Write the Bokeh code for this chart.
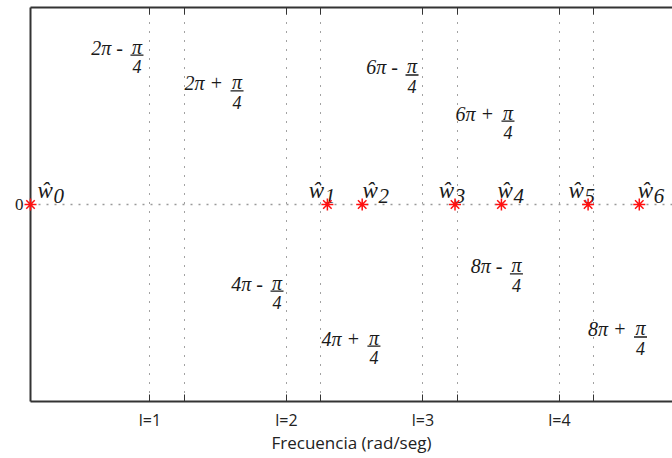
from bokeh.plotting import figure
from bokeh.models import Range1d, FixedTicker, LinearAxis, ColumnDataSource
from bokeh.core.properties import value
from bokeh.embed import file_html
from bokeh.resources import INLINE

# ---------------- data ----------------
# sample frequencies (in units of l, i.e. multiples of 2*pi)
w_hat_x = [0.125, 2.30, 2.555, 3.235, 3.575, 4.21, 4.585]
w_hat_y = [0, 0, 0, 0, 0, 0, 0]
w_hat_sub = ["0", "1", "2", "3", "4", "5", "6"]
w_hat_label_x = [0.177, 2.163, 2.558, 3.115, 3.547, 4.067, 4.573]

# alias annotations
alias_main = ["2π -", "2π +", "6π -", "6π +", "4π -", "4π +", "8π -", "8π +"]
alias_x = [0.905, 1.638, 2.920, 3.623, 1.931, 2.641, 3.685, 4.594]
alias_y = [0.761, 0.579, 0.660, 0.426, -0.437, -0.716, -0.350, -0.670]

grid_ticks = [1, 1.25, 2, 2.25, 3, 3.25, 4, 4.25]
tick_labels = {1: "l=1", 1.25: "", 2: "l=2", 2.25: "", 3: "l=3", 3.25: "", 4: "l=4", 4.25: ""}

# ---------------- figure ----------------
X0, X1 = 0.125, 0.125 + 642 / 136.5
Y0, Y1 = -1.0, 1.0
FRAME_W, FRAME_H = 642, 394

p = figure(frame_width=FRAME_W, frame_height=FRAME_H, output_backend="svg", toolbar_location=None,
           x_range=Range1d(X0, X1), y_range=Range1d(Y0, Y1),
           min_border_left=30, min_border_right=0, min_border_top=7, min_border_bottom=50)
p.outline_line_color = None
p.background_fill_color = "white"
p.border_fill_color = "white"

AX = "#333333"
SANS = "Open Sans"
SERIF = "Liberation Serif"

# bottom axis
xa = p.xaxis[0]
xa.ticker = FixedTicker(ticks=grid_ticks)
xa.major_label_overrides = tick_labels
xa.major_tick_in = 7
xa.major_tick_out = 0
xa.minor_tick_line_color = None
xa.axis_line_color = AX
xa.axis_line_width = 2
xa.major_tick_line_color = AX
xa.major_label_text_font = SANS
xa.major_label_text_font_size = "16px"
xa.major_label_text_color = "#222222"
xa.major_label_standoff = 7
xa.axis_label = "Frecuencia (rad/seg)"
xa.axis_label_text_font = SANS
xa.axis_label_text_font_size = "17px"
xa.axis_label_text_font_style = "normal"
xa.axis_label_text_color = "#222222"
xa.axis_label_standoff = -3

# left axis
ya = p.yaxis[0]
ya.ticker = FixedTicker(ticks=[0])
ya.major_tick_in = 0
ya.major_tick_out = 0
ya.minor_tick_line_color = None
ya.axis_line_color = AX
ya.axis_line_width = 2
ya.major_label_text_font = SERIF
ya.major_label_text_font_size = "17px"
ya.major_label_text_color = "#222222"
ya.major_label_standoff = 7

# top axis (frame line with inward ticks)
top = LinearAxis(ticker=FixedTicker(ticks=grid_ticks))
top.major_tick_in = 7
top.major_tick_out = 0
top.minor_tick_line_color = None
top.axis_line_color = AX
top.axis_line_width = 2
top.major_tick_line_color = AX
top.major_label_text_font_size = "0px"
top.major_label_standoff = 0
top.major_label_overrides = {t: "" for t in grid_ticks}
p.add_layout(top, "above")

# grids
p.xgrid.ticker = FixedTicker(ticks=grid_ticks)
p.xgrid.grid_line_color = "#444444"
p.xgrid.grid_line_dash = "1 8"
p.xgrid.grid_line_width = 1
p.ygrid.ticker = FixedTicker(ticks=[0])
p.ygrid.grid_line_color = "#9a9a9a"
p.ygrid.grid_line_dash = "2 6"
p.ygrid.grid_line_width = 1.3

# ---------------- markers ----------------
stars = p.scatter(w_hat_x, w_hat_y, marker="asterisk", size=12, line_color="#ff1010", line_width=1.5)
stars.level = "annotation"

# w-hat labels
TXT = "#1a1a1a"
src_w = ColumnDataSource(dict(x=w_hat_label_x, y=w_hat_y,
                              t=["ŵ"] * len(w_hat_sub), s=w_hat_sub))
p.text(x="x", y="y", text="t", source=src_w, text_font=value(SERIF), text_font_style="italic",
       text_font_size="23px", text_color=TXT, text_align="left", text_baseline="alphabetic",
       y_offset=-14)
p.text(x="x", y="y", text="s", source=src_w, text_font=value(SERIF), text_font_style="italic",
       text_font_size="21px", text_color=TXT, text_align="left", text_baseline="alphabetic",
       x_offset=16, y_offset=-9)

# alias annotations: "kπ ±" + fraction π/4
n = len(alias_main)
src_a = ColumnDataSource(dict(x=alias_x, y=alias_y, m=alias_main,
                              pi=["π"] * n, four=["4"] * n))
p.text(x="x", y="y", text="m", source=src_a, text_font=value(SERIF), text_font_style="italic",
       text_font_size="20px", text_color=TXT, text_align="right", text_baseline="alphabetic",
       x_offset=-14, y_offset=-7)
p.text(x="x", y="y", text="pi", source=src_a, text_font=value(SERIF), text_font_style="italic",
       text_font_size="20px", text_color=TXT, text_align="center", text_baseline="alphabetic",
       y_offset=-8)
p.text(x="x", y="y", text="four", source=src_a, text_font=value(SERIF), text_font_style="italic",
       text_font_size="18px", text_color=TXT, text_align="center", text_baseline="alphabetic",
       y_offset=12)
dy = (Y1 - Y0) / FRAME_H
p.rect(x=alias_x, y=[v - 0.5 * dy for v in alias_y], width=13, height=1.3,
       width_units="screen", height_units="screen", fill_color=TXT, line_color=None)

open("out.html", "w").write(file_html(p, INLINE))
